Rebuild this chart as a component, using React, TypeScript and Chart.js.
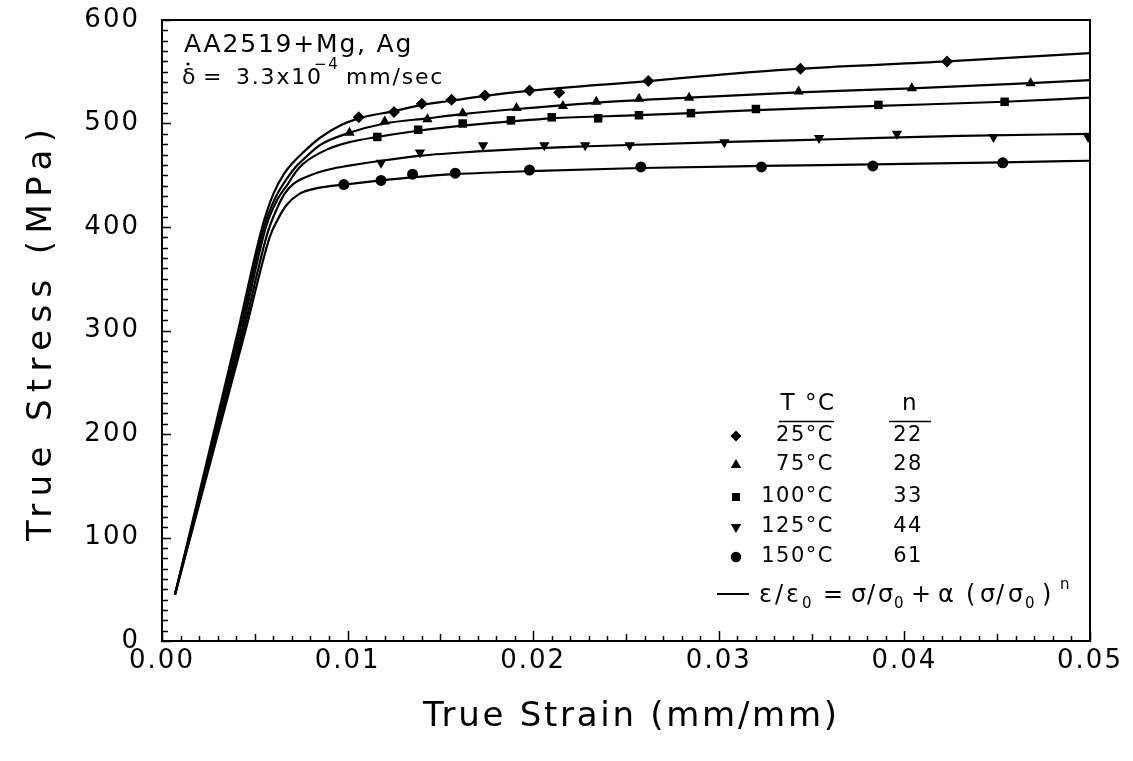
import React, { useEffect, useRef } from 'react';
import { Chart, registerables } from 'chart.js';
import { drawPoint } from 'chart.js/helpers';
Chart.register(...registerables);

const FONT = '"DejaVu Sans", "Noto Sans", sans-serif';

// ---- fitted curves (Ramberg-Osgood fits) ----
const fitX25 = [0.0007, 0.0041, 0.0054, 0.006, 0.0066, 0.0071, 0.0076, 0.0085, 0.0096, 0.0106, 0.0125, 0.014, 0.0156, 0.0175, 0.02, 0.0262, 0.03, 0.0344, 0.0423, 0.05];
const fitY25 = [45, 300, 400, 432, 452, 463, 472, 486, 498, 505, 512, 518, 522, 527, 532, 541, 547, 553, 560, 568];

const fitX75 = [0.0007, 0.0042, 0.0055, 0.0061, 0.0067, 0.0072, 0.0076, 0.0085, 0.0101, 0.012, 0.0143, 0.0162, 0.0191, 0.0234, 0.0284, 0.0343, 0.0404, 0.0468, 0.05];
const fitY75 = [45, 300, 400, 428, 446, 458, 465, 479, 491, 500, 505, 509, 514, 520, 525, 530, 534, 539, 542];

const fitX100 = [0.0007, 0.0043, 0.0056, 0.0062, 0.0068, 0.0072, 0.0076, 0.0089, 0.0101, 0.0116, 0.0138, 0.0162, 0.0188, 0.021, 0.0257, 0.0285, 0.032, 0.0386, 0.0454, 0.05];
const fitY100 = [45, 300, 400, 426, 442, 453, 461, 475, 482, 487, 493, 498, 502, 505, 508, 510, 513, 517, 521, 525];

const fitX125 = [0.0007, 0.0044, 0.0057, 0.0062, 0.0066, 0.0071, 0.008, 0.0091, 0.01, 0.0118, 0.014, 0.017, 0.02, 0.023, 0.03, 0.0365, 0.043, 0.05];
const fitY125 = [45, 300, 395, 418, 432, 442, 450, 456, 459, 464, 469, 473, 476, 478, 482, 485, 488, 490];

const fitX150 = [0.0007, 0.0045, 0.0058, 0.0062, 0.0067, 0.0074, 0.0085, 0.0098, 0.0118, 0.0135, 0.0158, 0.0198, 0.0258, 0.0323, 0.0383, 0.0453, 0.05];
const fitY150 = [45, 300, 390, 406, 421, 432, 438, 441, 445, 448, 451, 454, 457, 459, 460.5, 462.5, 464];

// ---- measured points ----
const ptX25 = [0.0106, 0.0125, 0.014, 0.0156, 0.0174, 0.0198, 0.0214, 0.0262, 0.0344, 0.0423];
const ptY25 = [506, 511, 519, 523, 527, 532, 530, 541, 553, 560];

const ptX75 = [0.0101, 0.012, 0.0143, 0.0162, 0.0191, 0.0216, 0.0234, 0.0257, 0.0284, 0.0343, 0.0404, 0.0468];
const ptY75 = [491, 502, 504, 510, 515, 517, 521, 524, 525, 531, 534, 539];

const ptX100 = [0.0116, 0.0138, 0.0162, 0.0188, 0.021, 0.0235, 0.0257, 0.0285, 0.032, 0.0386, 0.0454];
const ptY100 = [487, 494, 500, 503, 506, 505, 508, 510, 514, 518, 521];

const ptX125 = [0.0118, 0.0139, 0.0173, 0.0206, 0.0228, 0.0252, 0.0303, 0.0354, 0.0396, 0.0448, 0.0499];
const ptY125 = [462, 472, 479, 479, 479, 479, 482, 486, 490, 487, 487];

const ptX150 = [0.0098, 0.0118, 0.0135, 0.0158, 0.0198, 0.0258, 0.0323, 0.0383, 0.0453];
const ptY150 = [441, 445, 451, 452, 455, 458, 458, 459, 462];

// ---- legend / labels ----
const tempLabels = ['25°C', '75°C', '100°C', '125°C', '150°C'];
const nValues = ['22', '28', '33', '44', '61'];
const markerStyles = ['rectRot', 'triangle', 'rect', 'triangle', 'circle'];
const markerRotations = [0, 0, 0, 180, 0];
const markerRadii = [6, 6, 6, 6, 5.5];

const xMin = 0, xMax = 0.05, xStep = 0.01, xMinorStep = 0.001;
const yMin = 0, yMax = 600, yStep = 100, yMinorStep = 10;

const xTitle = 'True Strain (mm/mm)';
const yTitle = 'True Stress (MPa)';
const alloyLabel = 'AA2519+Mg, Ag';

const fitXs = [fitX25, fitX75, fitX100, fitX125, fitX150];
const fitYs = [fitY25, fitY75, fitY100, fitY125, fitY150];
const ptXs = [ptX25, ptX75, ptX100, ptX125, ptX150];
const ptYs = [ptY25, ptY75, ptY100, ptY125, ptY150];

function zip(xs: number[], ys: number[]) {
  return xs.map((x, i) => ({ x, y: ys[i] }));
}

function spacedText(ctx: CanvasRenderingContext2D, text: string, cx: number, cy: number, targetW: number, rot: number) {
  ctx.save();
  (ctx as any).letterSpacing = '0px';
  const w0 = ctx.measureText(text).width;
  const sp = Math.max(0, (targetW - w0) / (text.length - 1));
  (ctx as any).letterSpacing = sp + 'px';
  ctx.translate(cx, cy);
  ctx.rotate(rot);
  ctx.textAlign = 'left';
  ctx.textBaseline = 'middle';
  ctx.fillText(text, -targetW / 2, 0);
  ctx.restore();
}

const decorPlugin = {
  id: 'decor',
  beforeDraw(chart: any) {
    const ctx = chart.ctx;
    ctx.save();
    ctx.fillStyle = '#fff';
    ctx.fillRect(0, 0, chart.width, chart.height);
    ctx.restore();
    (ctx as any).letterSpacing = '2px';
  },
  afterDraw(chart: any) {
    const ctx: CanvasRenderingContext2D = chart.ctx;
    const { left, right, top, bottom } = chart.chartArea;
    const xs = chart.scales.x;
    const ys = chart.scales.y;
    ctx.save();
    (ctx as any).letterSpacing = '0px';
    ctx.strokeStyle = '#000';
    ctx.fillStyle = '#000';
    // frame
    ctx.lineWidth = 2;
    ctx.strokeRect(left, top, right - left, bottom - top);
    // ticks
    ctx.lineWidth = 1.5;
    ctx.beginPath();
    for (let v = yMin; v <= yMax + 1e-9; v += yMinorStep) {
      const p = Math.round(ys.getPixelForValue(v)) + 0.5;
      const major = Math.abs(v / yStep - Math.round(v / yStep)) < 1e-6;
      const len = major ? 9 : 6;
      ctx.moveTo(left, p);
      ctx.lineTo(left + len, p);
    }
    for (let i = 0; i <= Math.round((xMax - xMin) / xMinorStep); i++) {
      const v = xMin + i * xMinorStep;
      const p = Math.round(xs.getPixelForValue(v)) + 0.5;
      const major = i % 10 === 0;
      const mid = i % 5 === 0;
      const len = major ? 10 : mid ? 7 : 5;
      ctx.moveTo(p, bottom);
      ctx.lineTo(p, bottom - len);
    }
    ctx.stroke();

    // axis titles
    ctx.font = `34px ${FONT}`;
    spacedText(ctx, xTitle, (left + right) / 2 + 4, 717, 414, 0);
    spacedText(ctx, yTitle, 42, 335, 412, -Math.PI / 2);

    // annotation
    ctx.textAlign = 'left';
    ctx.textBaseline = 'alphabetic';
    (ctx as any).letterSpacing = '1.8px';
    ctx.font = `25px ${FONT}`;
    ctx.fillText(alloyLabel, 184, 52);
    ctx.font = `22px ${FONT}`;
    ctx.fillText('δ', 182, 84);
    ctx.beginPath();
    ctx.arc(188, 64, 1.6, 0, Math.PI * 2);
    ctx.fill();
    ctx.fillText('=', 203, 84);
    ctx.fillText('3.3x10', 236, 84);
    ctx.font = `15px ${FONT}`;
    ctx.fillText('−4', 314, 69);
    ctx.font = `22px ${FONT}`;
    ctx.fillText('mm/sec', 346, 84);

    // legend header
    (ctx as any).letterSpacing = '1.5px';
    ctx.font = `23px ${FONT}`;
    ctx.textAlign = 'center';
    ctx.textBaseline = 'middle';
    ctx.fillText('T °C', 808, 404);
    ctx.fillText('n', 910, 404);
    ctx.lineWidth = 1.5;
    ctx.beginPath();
    ctx.moveTo(779, 421.5); ctx.lineTo(834, 421.5);
    ctx.moveTo(889, 421.5); ctx.lineTo(931, 421.5);
    ctx.stroke();

    const rowsY = [436, 465, 497, 527, 557];
    ctx.font = `21px ${FONT}`;
    for (let i = 0; i < tempLabels.length; i++) {
      const y = rowsY[i];
      drawPoint(ctx, {
        pointStyle: markerStyles[i] as any,
        rotation: markerRotations[i],
        radius: 4.5,
        borderWidth: 1,
      } as any, 736, y);
      ctx.fill();
      ctx.textAlign = 'right';
      ctx.fillText(tempLabels[i], 834, y);
      ctx.textAlign = 'center';
      ctx.fillText(nValues[i], 908, y);
    }

    // equation line
    ctx.lineWidth = 2;
    ctx.beginPath();
    ctx.moveTo(717, 594); ctx.lineTo(749, 594);
    ctx.stroke();
    ctx.textBaseline = 'alphabetic';
    ctx.textAlign = 'left';
    (ctx as any).letterSpacing = '0px';
    const base = 602;
    const big = `24px ${FONT}`;
    const sub = `15px ${FONT}`;
    const put = (t: string, x: number, f: string, dy: number) => {
      ctx.font = f;
      ctx.fillText(t, x, base + dy);
    };
    put('ε', 759, big, 0);
    put('/', 775, big, 0);
    put('ε', 786, big, 0);
    put('0', 802, sub, 6);
    put('=', 823, big, 0);
    put('σ', 851, big, 0);
    put('/', 867, big, 0);
    put('σ', 878, big, 0);
    put('0', 894, sub, 6);
    put('+', 911, big, 0);
    put('α', 938, big, 0);
    put('(', 966, big, 0);
    put('σ', 980, big, 0);
    put('/', 996, big, 0);
    put('σ', 1008, big, 0);
    put('0', 1025, sub, 6);
    put(')', 1042, big, 0);
    put('n', 1060, sub, -13);
    ctx.restore();
  },
};

export default function App() {
  const ref = useRef<HTMLCanvasElement | null>(null);
  useEffect(() => {
    if (!ref.current) return;
    const datasets: any[] = [];
    for (let i = 0; i < 5; i++) {
      datasets.push({
        label: tempLabels[i] + ' fit',
        data: zip(fitXs[i], fitYs[i]),
        showLine: true,
        borderColor: '#000',
        borderWidth: 2.2,
        pointRadius: 0,
        cubicInterpolationMode: 'monotone',
        fill: false,
      });
    }
    for (let i = 0; i < 5; i++) {
      datasets.push({
        label: tempLabels[i],
        data: zip(ptXs[i], ptYs[i]),
        showLine: false,
        pointStyle: markerStyles[i],
        rotation: markerRotations[i],
        pointRadius: markerRadii[i],
        backgroundColor: '#000',
        borderColor: '#000',
        borderWidth: 0,
      });
    }
    const chart = new Chart(ref.current, {
      type: 'scatter',
      data: { datasets },
      options: {
        animation: false,
        responsive: false,
        devicePixelRatio: 1,
        layout: { padding: { left: 0, top: 20, right: 43, bottom: 0 } },
        plugins: { legend: { display: false }, tooltip: { enabled: false } },
        scales: {
          x: {
            type: 'linear',
            min: xMin,
            max: xMax,
            afterFit: (s: any) => {
              s.height = 120;
              s.paddingLeft = 0; s.paddingRight = 0; s.paddingTop = 0; s.paddingBottom = 0;
            },
            afterBuildTicks: (s: any) => {
              const t = [];
              for (let i = 0; i <= 5; i++) t.push({ value: xMin + i * xStep });
              s.ticks = t;
            },
            grid: { display: false, drawTicks: false },
            border: { display: false },
            ticks: {
              color: '#000',
              font: { family: FONT, size: 26 },
              padding: 5,
              maxRotation: 0,
              autoSkip: false,
              callback: (v: any) => Number(v).toFixed(2),
            },
          },
          y: {
            type: 'linear',
            min: yMin,
            max: yMax,
            afterFit: (s: any) => {
              s.width = 162;
              s.paddingLeft = 0; s.paddingRight = 0; s.paddingTop = 0; s.paddingBottom = 0;
            },
            grid: { display: false, drawTicks: false },
            border: { display: false },
            ticks: {
              color: '#000',
              stepSize: yStep,
              font: { family: FONT, size: 26 },
              padding: 22,
              callback: (v: any) => String(v),
            },
          },
        },
      },
      plugins: [decorPlugin],
    });
    return () => chart.destroy();
  }, []);
  return (
    <div style={{ position: 'absolute', left: 0, top: 0, width: 1133, height: 761, background: '#fff' }}>
      <canvas ref={ref} width={1133} height={761} style={{ width: 1133, height: 761, display: 'block' }} />
    </div>
  );
}
